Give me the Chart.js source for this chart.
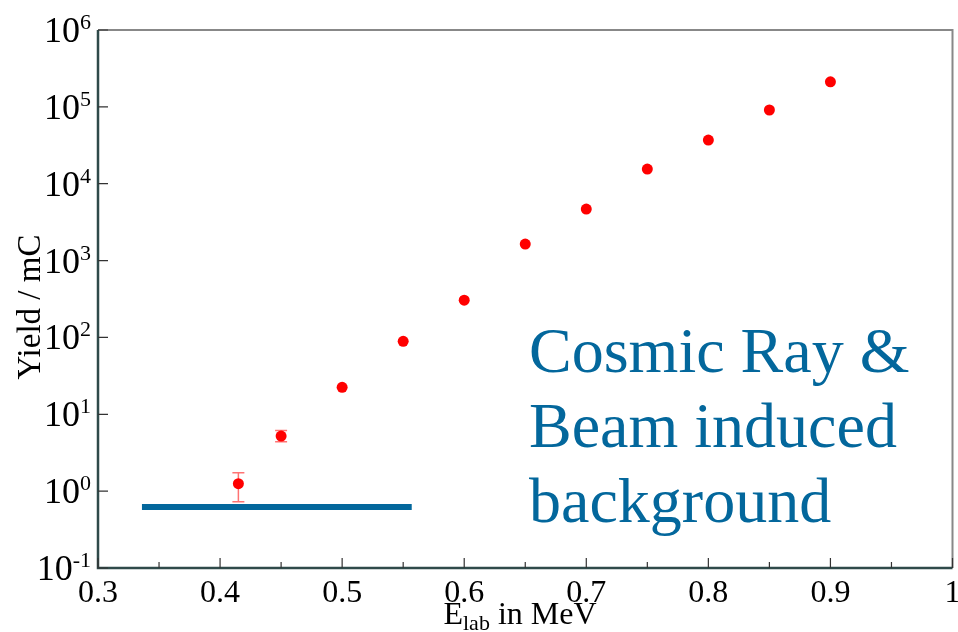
<!DOCTYPE html>
<html>
<head>
  <meta charset="utf-8">
  <title>Yield vs E_lab</title>
  <style>
    body { margin: 0; background: #fff; }
    .wrap { width: 958px; height: 632px; position: relative; }
  </style>
</head>
<body>
  <div class="wrap"><canvas id="yieldChart"></canvas></div>
  <script src="https://cdn.jsdelivr.net/npm/chart.js"></script>
  <script>
    // measured points (E_lab in MeV, yield per mC)
    const energies = [0.415, 0.45, 0.5, 0.55, 0.6, 0.65, 0.7, 0.75, 0.8, 0.85, 0.9];
    const yields = [1.25, 5.2, 22.4, 89, 305, 1640, 4680, 15500, 37000, 91000, 212000];
    const errLow = [0.73, 4.4, null, null, null, null, null, null, null, null, null];
    const errHigh = [1.73, 6.15, null, null, null, null, null, null, null, null, null];

    // cosmic ray & beam induced background level
    const bgEnergies = [0.336, 0.557];
    const bgLevel = [0.622, 0.622];

    const xTicks = [0.3, 0.4, 0.5, 0.6, 0.7, 0.8, 0.9, 1];
    const xMinorTicks = [0.35, 0.45, 0.55, 0.65, 0.75, 0.85, 0.95];
    const yTickExps = [-1, 0, 1, 2, 3, 4, 5, 6];

    const serif = '"Liberation Serif", "Times New Roman", serif';
    const bgColor = '#03679c';

    const axesPlugin = {
      id: 'axesPlugin',
      afterDatasetsDraw(chart) {
        const { ctx, chartArea: a, scales: { x, y } } = chart;
        ctx.save();

        // error bars
        ctx.strokeStyle = 'rgba(255,0,0,0.55)';
        ctx.lineWidth = 1.5;
        energies.forEach((e, i) => {
          if (errLow[i] == null) return;
          const px = x.getPixelForValue(e);
          const y1 = y.getPixelForValue(errLow[i]);
          const y2 = y.getPixelForValue(errHigh[i]);
          ctx.beginPath();
          ctx.moveTo(px, y1); ctx.lineTo(px, y2);
          ctx.moveTo(px - 6, y1); ctx.lineTo(px + 6, y1);
          ctx.moveTo(px - 6, y2); ctx.lineTo(px + 6, y2);
          ctx.stroke();
        });

        // frame
        ctx.lineWidth = 2;
        ctx.strokeStyle = '#888';
        ctx.beginPath();
        ctx.moveTo(a.left, a.top); ctx.lineTo(a.right, a.top); ctx.lineTo(a.right, a.bottom);
        ctx.stroke();
        ctx.lineWidth = 2.5;
        ctx.strokeStyle = '#2f4a4a';
        ctx.beginPath();
        ctx.moveTo(a.left, a.top); ctx.lineTo(a.left, a.bottom); ctx.lineTo(a.right, a.bottom);
        ctx.stroke();

        // ticks
        ctx.lineWidth = 1.2;
        ctx.strokeStyle = '#333';
        ctx.beginPath();
        xTicks.forEach(v => {
          const px = x.getPixelForValue(v);
          ctx.moveTo(px, a.bottom); ctx.lineTo(px, a.bottom - 10);
        });
        xMinorTicks.forEach(v => {
          const px = x.getPixelForValue(v);
          ctx.moveTo(px, a.bottom); ctx.lineTo(px, a.bottom - 6);
        });
        yTickExps.forEach(p => {
          const py = y.getPixelForValue(Math.pow(10, p));
          ctx.moveTo(a.left, py); ctx.lineTo(a.left + 10, py);
        });
        ctx.stroke();

        // x tick labels
        ctx.fillStyle = '#000';
        ctx.font = '32px ' + serif;
        ctx.textAlign = 'center';
        ctx.textBaseline = 'alphabetic';
        xTicks.forEach(v => {
          ctx.fillText(String(v), x.getPixelForValue(v), 602);
        });

        // y tick labels with superscript exponent
        yTickExps.forEach(p => {
          const py = y.getPixelForValue(Math.pow(10, p));
          const exp = p < 0 ? '-' + Math.abs(p) : String(p);
          ctx.font = '22px ' + serif;
          const ew = ctx.measureText(exp).width;
          ctx.textAlign = 'right';
          ctx.fillText(exp, 91, py - 1);
          ctx.font = '36px ' + serif;
          ctx.fillText('10', 91 - ew, py + 12);
        });

        // axis titles
        ctx.textAlign = 'left';
        ctx.font = '32px ' + serif;
        const eW = ctx.measureText('E').width;
        ctx.font = '22px ' + serif;
        const labW = ctx.measureText('lab').width;
        ctx.font = '32px ' + serif;
        const restW = ctx.measureText(' in MeV').width;
        let sx = 520 - (eW + labW + restW) / 2;
        ctx.fillText('E', sx, 624);
        ctx.font = '22px ' + serif;
        ctx.fillText('lab', sx + eW, 630);
        ctx.font = '32px ' + serif;
        ctx.fillText(' in MeV', sx + eW + labW, 624);

        ctx.save();
        ctx.translate(40, 307);
        ctx.rotate(-Math.PI / 2);
        ctx.textAlign = 'center';
        ctx.font = '33px ' + serif;
        ctx.fillText('Yield / mC', 0, 0);
        ctx.restore();

        // annotation
        ctx.fillStyle = bgColor;
        ctx.textAlign = 'left';
        ctx.font = '64px ' + serif;
        ctx.fillText('Cosmic Ray &', 529, 372);
        ctx.fillText('Beam induced', 529, 447);
        ctx.fillText('background', 529, 522);

        ctx.restore();
      }
    };

    new Chart(document.getElementById('yieldChart'), {
      type: 'scatter',
      data: {
        datasets: [
          {
            label: 'Background',
            type: 'line',
            data: bgEnergies.map((e, i) => ({ x: e, y: bgLevel[i] })),
            borderColor: bgColor,
            borderWidth: 6,
            pointRadius: 0,
            fill: false
          },
          {
            label: 'Yield',
            data: energies.map((e, i) => ({ x: e, y: yields[i] })),
            backgroundColor: '#ff0000',
            borderColor: '#ff0000',
            pointRadius: 5.5,
            pointBorderWidth: 0
          }
        ]
      },
      options: {
        responsive: true,
        maintainAspectRatio: false,
        animation: false,
        layout: { padding: { left: 98, top: 30, right: 3, bottom: 64 } },
        plugins: { legend: { display: false }, tooltip: { enabled: false } },
        scales: {
          x: { type: 'linear', min: 0.3, max: 1, display: false },
          y: { type: 'logarithmic', min: 0.1, max: 1e6, display: false }
        }
      },
      plugins: [axesPlugin]
    });
  </script>
</body>
</html>
